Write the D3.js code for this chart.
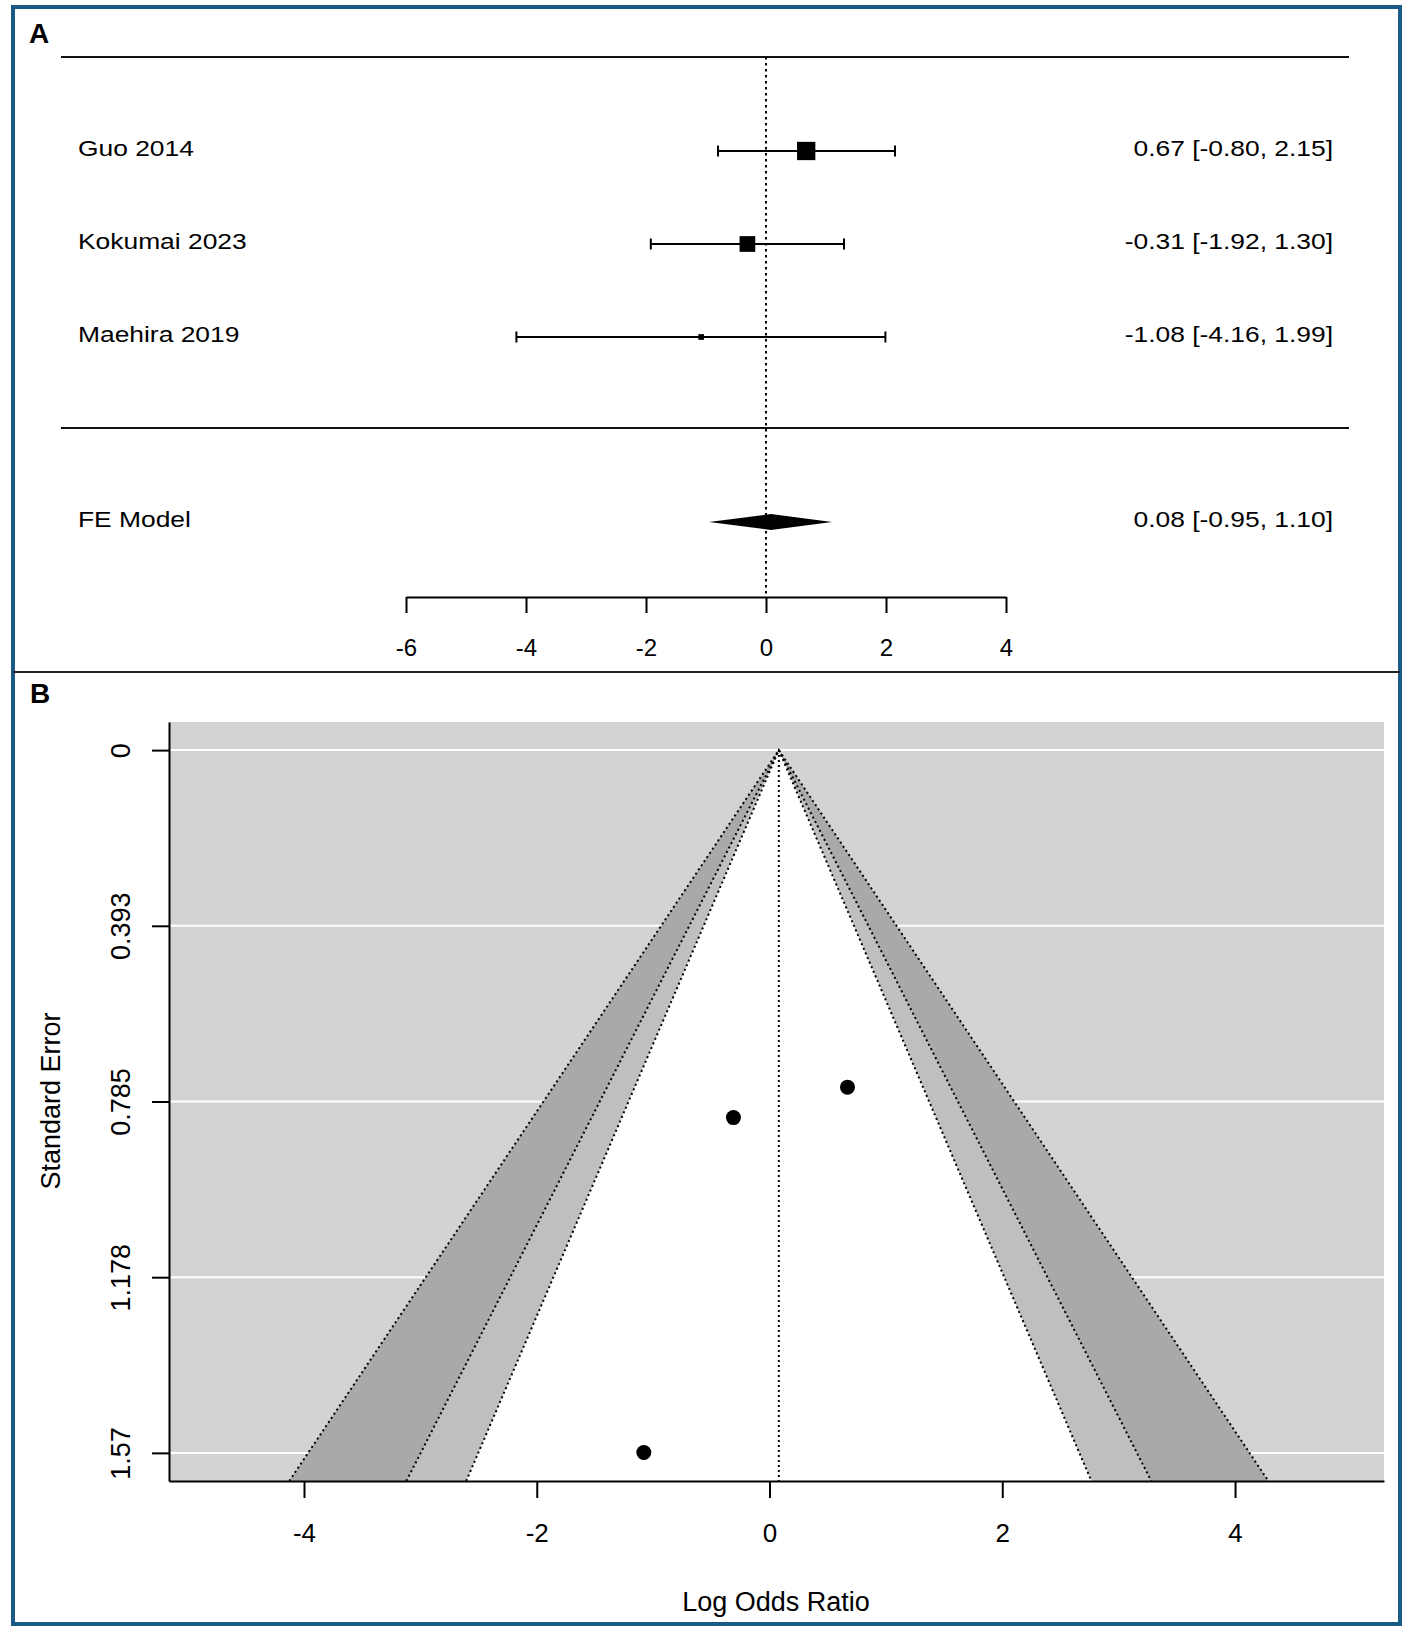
<!DOCTYPE html>
<html>
<head>
<meta charset="utf-8">
<title>Forest plot and contour-enhanced funnel plot</title>
<style>
  body { margin: 0; background: #fff; }
  svg { display: block; font-family: "Liberation Sans", Arial, sans-serif; }
</style>
</head>
<body>
<svg></svg>
<script src="https://d3js.org/d3.v7.min.js"></script>
<script>
// study data (log odds ratios)
const studies = ["Guo 2014", "Kokumai 2023", "Maehira 2019"];
const estimates = [0.67, -0.31, -1.08];
const ciLower = [-0.80, -1.92, -4.16];
const ciUpper = [2.15, 1.30, 1.99];
const stdErrors = [0.753, 0.821, 1.569];

const pooledLabel = "FE Model";
const pooled = [0.08, -0.95, 1.10]; // estimate, lower, upper

const forestTicks = [-6, -4, -2, 0, 2, 4];
const funnelXTicks = [-4, -2, 0, 2, 4];
const funnelYTicks = [0, 0.3925, 0.785, 1.1775, 1.57];
const funnelYLabels = ["0", "0.393", "0.785", "1.178", "1.57"];

// contour levels 99 / 95 / 90 % and their z values
const contourZ = [2.576, 1.960, 1.645];
const contourFills = ["#a9a9a9", "#bfbfbf", "#ffffff"];

const width = 1417, height = 1640;
// R prints a plain hyphen for negatives
const loc = d3.formatLocale({ decimal: ".", thousands: ",", grouping: [3], currency: ["", ""], minus: "-" });
const f2 = loc.format(".2f");
const fInt = loc.format("d");

const svg = d3.select("svg")
  .attr("width", width)
  .attr("height", height)
  .attr("viewBox", [0, 0, width, height]);

// frame
svg.append("rect")
  .attr("x", 13).attr("y", 7)
  .attr("width", 1387).attr("height", 1617)
  .attr("fill", "none")
  .attr("stroke", "#1b5a84")
  .attr("stroke-width", 4);

svg.append("line")
  .attr("x1", 13).attr("x2", 1400)
  .attr("y1", 672).attr("y2", 672)
  .attr("stroke", "#222").attr("stroke-width", 2);

svg.append("text").text("A")
  .attr("x", 29).attr("y", 43)
  .attr("font-size", 28).attr("font-weight", "bold");
svg.append("text").text("B")
  .attr("x", 30).attr("y", 703)
  .attr("font-size", 28).attr("font-weight", "bold");

// ---------- panel A: forest plot ----------
const x = d3.scaleLinear([-6, 4], [406, 1006]);
const row = d3.scalePoint(studies, [151, 337]);
const pooledY = 522;

const wts = stdErrors.map(s => 1 / (s * s));
const psize = d3.scaleLinear(d3.extent(wts), [5.7, 18.3]);

const A = svg.append("g");

[57, 428].forEach(yy => {
  A.append("line")
    .attr("x1", 61).attr("x2", 1349)
    .attr("y1", yy).attr("y2", yy)
    .attr("stroke", "#111").attr("stroke-width", 2);
});

A.append("line")
  .attr("x1", x(0)).attr("x2", x(0))
  .attr("y1", 57).attr("y2", 597)
  .attr("stroke", "#000").attr("stroke-width", 2)
  .attr("stroke-dasharray", "2.5,3.5");

const rows = A.selectAll("g.study")
  .data(studies)
  .join("g")
  .attr("class", "study");

rows.append("line")
  .attr("x1", (d, i) => x(ciLower[i]))
  .attr("x2", (d, i) => x(ciUpper[i]))
  .attr("y1", d => row(d)).attr("y2", d => row(d))
  .attr("stroke", "#000").attr("stroke-width", 2);

rows.each(function (d, i) {
  const g = d3.select(this);
  [ciLower[i], ciUpper[i]].forEach(v => {
    g.append("line")
      .attr("x1", x(v)).attr("x2", x(v))
      .attr("y1", row(d) - 5.5).attr("y2", row(d) + 5.5)
      .attr("stroke", "#000").attr("stroke-width", 2);
  });
});

rows.append("rect")
  .attr("x", (d, i) => x(estimates[i]) - psize(wts[i]) / 2)
  .attr("y", (d, i) => row(d) - psize(wts[i]) / 2)
  .attr("width", (d, i) => psize(wts[i]))
  .attr("height", (d, i) => psize(wts[i]))
  .attr("fill", "#000");

rows.append("text")
  .attr("transform", d => `translate(78,${row(d) + 5}) scale(1.2,1)`)
  .attr("font-size", 22)
  .text(d => d);

rows.append("text")
  .attr("transform", d => `translate(1333,${row(d) + 5}) scale(1.2,1)`)
  .attr("text-anchor", "end")
  .attr("font-size", 22)
  .text((d, i) => `${f2(estimates[i])} [${f2(ciLower[i])}, ${f2(ciUpper[i])}]`);

// pooled diamond
A.append("path")
  .attr("d", d3.line()([
    [x(pooled[1]), pooledY],
    [x(pooled[0]), pooledY - 8],
    [x(pooled[2]), pooledY],
    [x(pooled[0]), pooledY + 8]
  ]) + "Z")
  .attr("fill", "#000");

A.append("text")
  .attr("transform", `translate(78,${pooledY + 5}) scale(1.2,1)`)
  .attr("font-size", 22)
  .text(pooledLabel);

A.append("text")
  .attr("transform", `translate(1333,${pooledY + 5}) scale(1.2,1)`)
  .attr("text-anchor", "end")
  .attr("font-size", 22)
  .text(`${f2(pooled[0])} [${f2(pooled[1])}, ${f2(pooled[2])}]`);

const axA = A.append("g")
  .attr("transform", "translate(0,597)")
  .call(d3.axisBottom(x).tickValues(forestTicks).tickFormat(fInt)
    .tickSize(16).tickSizeOuter(0).tickPadding(26));
axA.selectAll("path, line").attr("stroke", "#000").attr("stroke-width", 2);
axA.selectAll("text").attr("font-size", 24).attr("fill", "#000")
  .attr("font-family", "Liberation Sans, Arial, sans-serif");

// ---------- panel B: funnel plot ----------
const yTop = funnelYTicks[funnelYTicks.length - 1];
const yDom = [-0.04 * yTop, 1.04 * yTop];
const fx = d3.scaleLinear([-5.16, 5.28], [169, 1384]);
const fy = d3.scaleLinear(yDom, [722, 1481]);
const est = pooled[0];

const B = svg.append("g");

B.append("clipPath").attr("id", "plotclip")
  .append("rect")
  .attr("x", 169).attr("y", 722)
  .attr("width", 1384 - 169).attr("height", 1481 - 722);

const plot = B.append("g").attr("clip-path", "url(#plotclip)");

plot.append("rect")
  .attr("x", 169).attr("y", 722)
  .attr("width", 1384 - 169).attr("height", 1481 - 722)
  .attr("fill", "#d3d3d3");

plot.selectAll("line.grid")
  .data(funnelYTicks)
  .join("line")
  .attr("class", "grid")
  .attr("x1", 169).attr("x2", 1384)
  .attr("y1", d => fy(d)).attr("y2", d => fy(d))
  .attr("stroke", "#fff").attr("stroke-width", 2);

const yB = yDom[1];
plot.selectAll("path.contour")
  .data(contourZ)
  .join("path")
  .attr("class", "contour")
  .attr("d", z => d3.line()([
    [fx(est - z * yB), fy(yB)],
    [fx(est), fy(0)],
    [fx(est + z * yB), fy(yB)]
  ]) + "Z")
  .attr("fill", (z, i) => contourFills[i]);

plot.selectAll("path.edge")
  .data(contourZ)
  .join("path")
  .attr("class", "edge")
  .attr("d", z => d3.line()([
    [fx(est - z * yB), fy(yB)],
    [fx(est), fy(0)],
    [fx(est + z * yB), fy(yB)]
  ]))
  .attr("fill", "none")
  .attr("stroke", "#000").attr("stroke-width", 2)
  .attr("stroke-dasharray", "2,3");

plot.append("line")
  .attr("x1", fx(est)).attr("x2", fx(est))
  .attr("y1", fy(0)).attr("y2", fy(yB))
  .attr("stroke", "#000").attr("stroke-width", 2)
  .attr("stroke-dasharray", "2,3");

plot.selectAll("circle")
  .data(estimates)
  .join("circle")
  .attr("cx", d => fx(d))
  .attr("cy", (d, i) => fy(stdErrors[i]))
  .attr("r", 7.5)
  .attr("fill", "#000");

const axL = B.append("g")
  .attr("transform", "translate(169,0)")
  .call(d3.axisLeft(fy).tickValues(funnelYTicks)
    .tickFormat((d, i) => funnelYLabels[i])
    .tickSize(17).tickSizeOuter(0));
axL.selectAll("path, line").attr("stroke", "#000").attr("stroke-width", 2);
axL.selectAll("text")
  .attr("x", 0).attr("dy", null)
  .attr("text-anchor", "middle")
  .attr("transform", "translate(-39,0) rotate(-90)")
  .attr("font-size", 27).attr("fill", "#000")
  .attr("font-family", "Liberation Sans, Arial, sans-serif");

const axB = B.append("g")
  .attr("transform", "translate(0,1481)")
  .call(d3.axisBottom(fx).tickValues(funnelXTicks).tickFormat(fInt)
    .tickSize(17).tickSizeOuter(0).tickPadding(26));
axB.selectAll("path, line").attr("stroke", "#000").attr("stroke-width", 2);
axB.selectAll("text").attr("font-size", 26).attr("fill", "#000")
  .attr("font-family", "Liberation Sans, Arial, sans-serif");

B.append("text")
  .attr("transform", "translate(60,1101) rotate(-90)")
  .attr("text-anchor", "middle")
  .attr("font-size", 27)
  .text("Standard Error");

B.append("text")
  .attr("x", 776).attr("y", 1611)
  .attr("text-anchor", "middle")
  .attr("font-size", 27)
  .text("Log Odds Ratio");
</script>
</body>
</html>
